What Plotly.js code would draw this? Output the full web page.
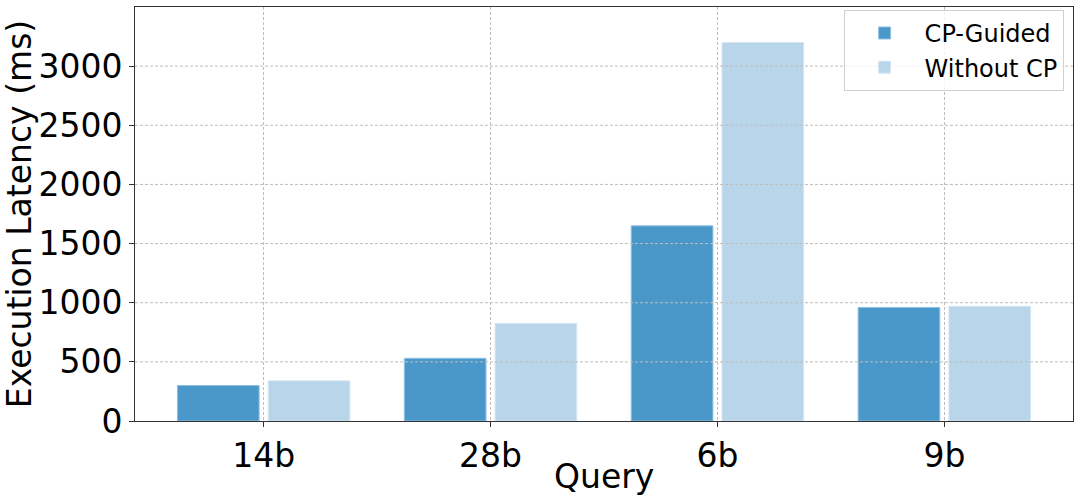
<!DOCTYPE html>
<html>
<head>
<meta charset="utf-8">
<script src="https://cdn.plot.ly/plotly-3.0.1.min.js"></script>
<style>html,body{margin:0;padding:0;background:#fff;}#chart{width:1080px;height:503px;}</style>
</head>
<body>
<div id="chart"></div>
<script>
const queries = ["14b", "28b", "6b", "9b"];
const cpGuided = [300, 530, 1650, 960];
const withoutCP = [340, 825, 3200, 970];
const yTicks = [0, 500, 1000, 1500, 2000, 2500, 3000];

const font = "DejaVu Sans, sans-serif";
const gridColor = "#bdbdbd";
const traces = [
  {type: "bar", name: "CP-Guided", x: queries, y: cpGuided,
   marker: {color: "#4a98c9", line: {color: "#8ec0e2", width: 1}}},
  {type: "bar", name: "Without CP", x: queries, y: withoutCP,
   marker: {color: "#b9d5ea", line: {color: "#d6e7f4", width: 1}}}
];
// horizontal grid lines drawn above the bars, as in the reference
const gridShapes = yTicks.slice(1).map(v => ({
  type: "line", xref: "paper", x0: 0, x1: 1, yref: "y", y0: v, y1: v,
  layer: "above", line: {color: gridColor, width: 1, dash: "3px,2px"}
}));
const layout = {
  width: 1080, height: 503,
  margin: {l: 135, r: 7, t: 7, b: 82},
  paper_bgcolor: "#fff", plot_bgcolor: "#fff",
  barmode: "group", bargap: 0.2, bargroupgap: 0.1,
  font: {family: font, color: "#000"},
  showlegend: true,
  legend: {x: 0.99, y: 0.993, xanchor: "right", yanchor: "top",
    bgcolor: "rgba(255,255,255,0.8)", bordercolor: "#d0d0d0", borderwidth: 1,
    font: {size: 24, family: font}, tracegroupgap: 4, itemwidth: 70},
  shapes: gridShapes,
  annotations: [{text: "Query", xref: "paper", yref: "paper", x: 0.5, y: -0.135,
    xanchor: "center", yanchor: "middle", showarrow: false,
    font: {size: 33, family: font, color: "#000"}}],
  xaxis: {type: "category", range: [-0.567, 3.567],
    tickfont: {size: 33, family: font},
    showline: true, mirror: true, linecolor: "#333", linewidth: 1,
    ticks: "outside", ticklen: 5, tickcolor: "#333",
    showgrid: true, gridcolor: gridColor, griddash: "3px,2px", gridwidth: 1},
  yaxis: {range: [0, 3500], tickvals: yTicks, ticktext: yTicks.map(String),
    title: {text: "Execution Latency (ms)", font: {size: 33, family: font}, standoff: 6},
    tickfont: {size: 33, family: font},
    showline: true, mirror: true, linecolor: "#333", linewidth: 1,
    ticks: "outside", ticklen: 5, tickcolor: "#333",
    showgrid: false, zeroline: false}
};
Plotly.newPlot("chart", traces, layout, {displayModeBar: false, staticPlot: true});
</script>
</body>
</html>
